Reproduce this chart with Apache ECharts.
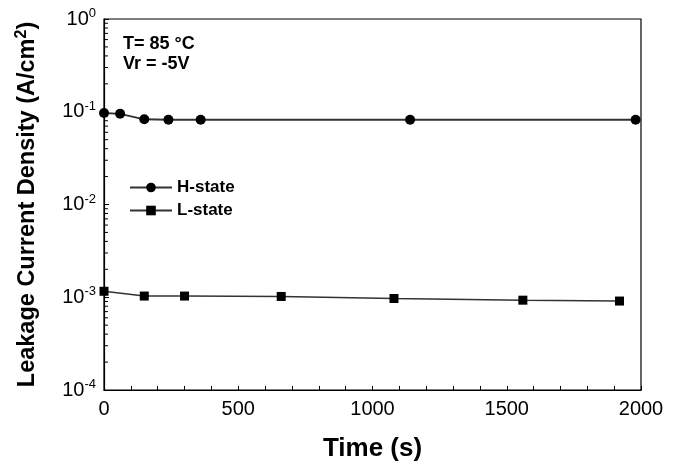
<!DOCTYPE html>
<html>
<head>
<meta charset="utf-8">
<script src="https://cdn.jsdelivr.net/npm/echarts@6/dist/echarts.min.js"></script>
<style>
  html, body { margin: 0; padding: 0; background: #fff; }
  #chart { width: 679px; height: 472px; }
</style>
</head>
<body>
<div id="chart"></div>
<script>
// H-state
const hTime = [0, 60, 150, 240, 360, 1140, 1980]
const hValue = [0.097, 0.095, 0.083, 0.082, 0.082, 0.082, 0.082]
// L-state
const lTime = [0, 150, 300, 660, 1080, 1560, 1920]
const lValue = [0.00116, 0.00103, 0.00103, 0.00102, 0.00097, 0.00093, 0.00091]

const decades = [0.0001, 0.001, 0.01, 0.1]
const minorSteps = [2, 3, 4, 5, 6, 7, 8, 9]
const minorTicks = []
decades.forEach(d => minorSteps.forEach(m => minorTicks.push([0, d * m])))

const font = 'Liberation Sans, Arial, Helvetica, sans-serif'
const chart = echarts.init(document.getElementById('chart'))

chart.setOption({
  animation: false,
  textStyle: { fontFamily: font },
  grid: {
    left: 104,
    right: 38,
    top: 19,
    bottom: 82,
    show: true,
    borderColor: '#000',
    borderWidth: 1.2,
    backgroundColor: 'transparent'
  },
  legend: {
    orient: 'vertical',
    left: 124,
    top: 174,
    itemWidth: 42,
    itemHeight: 12,
    itemGap: 6,
    textStyle: { fontFamily: font, fontSize: 17, fontWeight: 'bold', color: '#000' },
    data: ['H-state', 'L-state']
  },
  graphic: [
    {
      type: 'text',
      left: 123,
      top: 34,
      style: {
        text: 'T= 85 °C\nVr = -5V',
        font: 'bold 18px ' + font,
        lineHeight: 20,
        fill: '#000'
      }
    }
  ],
  xAxis: {
    type: 'value',
    min: 0,
    max: 2000,
    interval: 500,
    name: 'Time (s)',
    nameLocation: 'middle',
    nameGap: 46,
    nameTextStyle: { fontFamily: font, fontSize: 26, fontWeight: 'bold', color: '#000' },
    axisLine: { lineStyle: { color: '#000', width: 1.2 } },
    axisTick: { inside: true, length: 4, lineStyle: { color: '#000' } },
    minorTick: { show: true, splitNumber: 5, length: 4, lineStyle: { color: '#000' } },
    splitLine: { show: false },
    axisLabel: {
      fontFamily: font,
      fontSize: 20,
      color: '#000',
      margin: 9,
      formatter: function (v) { return String(v) }
    }
  },
  yAxis: {
    type: 'log',
    logBase: 10,
    min: 0.0001,
    max: 1,
    name: 'Leakage Current Density (A/cm{s|2})',
    nameLocation: 'middle',
    nameGap: 63,
    nameTextStyle: {
      fontFamily: font,
      fontSize: 23.5,
      fontWeight: 'bold',
      color: '#000',
      rich: {
        s: { fontFamily: font, fontSize: 16, fontWeight: 'bold', color: '#000', padding: [0, 0, 11, 0] }
      }
    },
    axisLine: { lineStyle: { color: '#000', width: 1.2 } },
    axisTick: { inside: true, length: 5, lineStyle: { color: '#000' } },
    splitLine: { show: false },
    axisLabel: {
      margin: 8,
      formatter: function (v) {
        const e = Math.round(Math.log10(v))
        return '{b|10}{s|' + e + '}'
      },
      rich: {
        b: { fontFamily: font, fontSize: 20, color: '#000' },
        s: { fontFamily: font, fontSize: 13, color: '#000', padding: [0, 0, 11, 0] }
      }
    }
  },
  series: [
    {
      name: 'H-state',
      type: 'line',
      data: hTime.map((t, i) => [t, hValue[i]]),
      symbol: 'circle',
      symbolSize: 10,
      itemStyle: { color: '#000' },
      lineStyle: { color: '#333', width: 1.8 }
    },
    {
      name: 'L-state',
      type: 'line',
      data: lTime.map((t, i) => [t, lValue[i]]),
      symbol: 'rect',
      symbolSize: 9,
      itemStyle: { color: '#000' },
      lineStyle: { color: '#333', width: 1.5 }
    },
    {
      // minor ticks on the log axis (2..9 of each decade)
      type: 'custom',
      silent: true,
      clip: false,
      data: minorTicks,
      renderItem: function (params, api) {
        const p = api.coord([0, api.value(1)])
        return {
          type: 'line',
          shape: { x1: p[0], y1: p[1], x2: p[0] + 4, y2: p[1] },
          style: { stroke: '#000', lineWidth: 1 }
        }
      }
    }
  ]
})
</script>
</body>
</html>
